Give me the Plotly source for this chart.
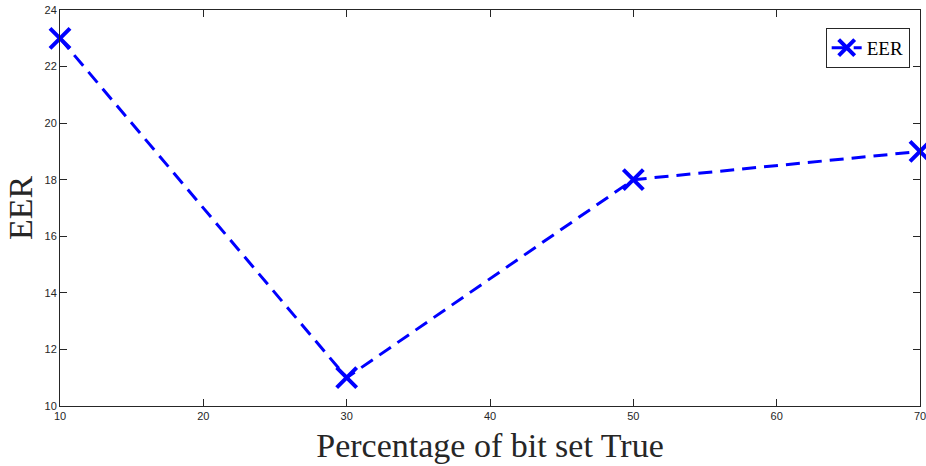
import plotly.graph_objects as go

pct = [10, 30, 50, 70]
eer = [23, 11, 18, 19]

fig = go.Figure()
fig.add_trace(go.Scatter(
    x=pct, y=eer, mode="lines+markers", name="EER", cliponaxis=False,
    line=dict(color="#0000FF", width=3, dash="14px,8px"),
    marker=dict(symbol="x-thin-open", size=20, line=dict(color="#0000FF", width=4)),
))

axis_common = dict(
    showline=True, mirror="ticks", linecolor="#262626", linewidth=1,
    ticks="inside", ticklen=7, tickcolor="#262626", showgrid=False, zeroline=False,
    automargin=False, ticklabeloverflow="allow",
    tickfont=dict(family="Liberation Sans, Arial", size=11, color="#262626"),
)
fig.update_xaxes(range=[10, 70], dtick=10, tick0=10,
                 title=dict(text="Percentage of bit set True",
                            font=dict(family="Liberation Serif, Times New Roman", size=34, color="#262626"),
                            standoff=11),
                 **axis_common)
fig.update_yaxes(range=[10, 24], dtick=2, tick0=10,
                 title=dict(text="EER",
                            font=dict(family="Liberation Serif, Times New Roman", size=34, color="#262626"),
                            standoff=1),
                 **axis_common)

fig.update_layout(
    width=926, height=466,
    margin=dict(l=60, r=6, t=10, b=60),
    plot_bgcolor="white", paper_bgcolor="white",
    showlegend=True,
    legend=dict(x=0.988, y=0.955, xanchor="right", yanchor="top",
                bordercolor="#262626", borderwidth=1, bgcolor="white",
                font=dict(family="Liberation Serif, Times New Roman", size=19, color="black"),
                itemwidth=30, tracegroupgap=0),
)

fig.write_html("out.html", config={"displayModeBar": False},
               post_script="document.body.style.margin='0px';")
